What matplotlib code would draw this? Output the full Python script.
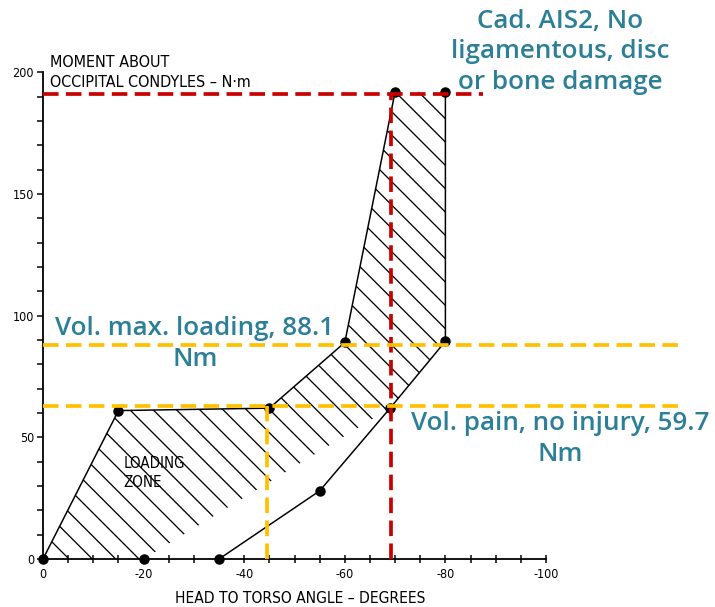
import matplotlib
matplotlib.use("Agg")
import matplotlib.pyplot as plt

# ---------------- data ----------------
zone_angle = [0, -15, -45, -60, -70, -80, -80, -69, -20]
zone_moment = [0, 61, 62, 89, 192, 192, 89.5, 62, 0]

upper_angle = [0, -15, -45, -60, -70]
upper_moment = [0, 61, 62, 89, 192]

right_angle = [-80, -80, -69]
right_moment = [192, 89.5, 62]

lower_angle = [-35, -55, -69]
lower_moment = [0, 28, 62]

point_angle = [0, -20, -35, -15, -45, -55, -60, -69, -70, -80, -80]
point_moment = [0, 0, 0, 61, 62, 28, 89, 62, 192, 192, 89.5]

cad_moment = 191
cad_angle = -69.2
vol_max_moment = 88.1
vol_pain_moment = 63
vol_pain_angle = -44.6

x_ticks = [0, -20, -40, -60, -80, -100]
x_tick_labels = ["0", "-20", "-40", "-60", "-80", "-100"]
y_ticks = [0, 50, 100, 150, 200]
y_tick_labels = ["0", "50", "100", "150", "200"]

# ---------------- style ----------------
DPI = 140
W, H = 715, 607


def px(v):
    """pixels -> points at the figure dpi"""
    return v * 72.0 / DPI


plt.rcParams['hatch.linewidth'] = px(1.3)
TEAL = '#2b7f97'
RED = '#c80000'
YEL = '#ffc000'
plt.rcParams['font.family'] = ['DejaVu Sans']
plt.rcParams['font.stretch'] = 'condensed'

fig = plt.figure(figsize=(W / DPI, H / DPI), dpi=DPI)
left = 43 / W
bottom = (H - 559) / H
ax = fig.add_axes([left, bottom, 1 - left, 1 - bottom])
ax.set_xlim(0, -(W - 43) / 5.03)
ax.set_ylim(0, 559 / 2.433)

for s in ['top', 'right']:
    ax.spines[s].set_visible(False)
ax.spines['left'].set_bounds(0, 200)
ax.spines['bottom'].set_bounds(-100, 0)
ax.spines['left'].set_linewidth(px(1.8))
ax.spines['bottom'].set_linewidth(px(1.8))

ax.set_xticks(x_ticks)
ax.set_xticklabels(x_tick_labels)
ax.set_xticks(list(range(0, -101, -5)), minor=True)
ax.set_yticks(y_ticks)
ax.set_yticklabels(y_tick_labels)
ax.set_yticks(list(range(0, 201, 10)), minor=True)
ax.tick_params(axis='both', which='both', length=px(5.8), width=px(1.5),
               labelsize=px(12.5), pad=px(3.3))
ax.tick_params(axis='x', which='both', direction='inout', length=px(8.3), pad=px(5))

# hatched loading zone
ax.fill(zone_angle, zone_moment, facecolor='none', edgecolor='black',
        linewidth=0, hatch='\\\\')

lw_line = px(1.5)
ax.plot(upper_angle, upper_moment, color='black', lw=lw_line)
ax.plot(right_angle, right_moment, color='black', lw=lw_line)
ax.plot(lower_angle, lower_moment, color='black', lw=lw_line)
ax.plot(point_angle, point_moment, 'o', color='black', ms=px(8.5), clip_on=False, zorder=5)

# thresholds
dash = (0, (4.2, 2.0))
lw_d = px(3.7)
ax.plot([0, -87.5], [cad_moment, cad_moment], color=RED, lw=lw_d, ls=dash, zorder=6)
ax.plot([cad_angle, cad_angle], [0, cad_moment], color=RED, lw=lw_d, ls=dash, zorder=6)
ax.plot([0, -126.6], [vol_max_moment, vol_max_moment], color=YEL, lw=lw_d, ls=dash, zorder=6)
ax.plot([0, -126.6], [vol_pain_moment, vol_pain_moment], color=YEL, lw=lw_d, ls=dash, zorder=6)
ax.plot([vol_pain_angle, vol_pain_angle], [0, vol_pain_moment], color=YEL, lw=lw_d,
        ls=dash, zorder=6)

# axis titles
ax.text(-1.4, 202.3, "MOMENT ABOUT", fontsize=px(16), ha='left', va='baseline',
        clip_on=False)
ax.text(-1.4, 194.1, "OCCIPITAL CONDYLES \u2013 N\u00b7m", fontsize=px(16), ha='left',
        va='baseline', clip_on=False)
ax.text(-51.1, -18.1, "HEAD TO TORSO ANGLE \u2013 DEGREES", fontsize=px(15.5), ha='center',
        va='baseline', clip_on=False)
ax.text(-16, 35.3, "LOADING\nZONE", fontsize=px(15), ha='left', va='center', linespacing=1.3)

# annotations
tfont = ['Open Sans', 'DejaVu Sans']
common = dict(family=tfont, color=TEAL, fontsize=px(26), weight='semibold', ha='center',
              va='center', multialignment='center', linespacing=1.3,
              stretch='normal', clip_on=False, zorder=7)
ax.text(-102.8, 208.5, "Cad. AIS2, No\nligamentous, disc\nor bone damage", **common)
ax.text(-30.2, 88.3, "Vol. max. loading, 88.1\nNm", **common)
ax.text(-102.8, 49.4, "Vol. pain, no injury, 59.7\nNm", **common)

fig.savefig("out.png", dpi=DPI)
